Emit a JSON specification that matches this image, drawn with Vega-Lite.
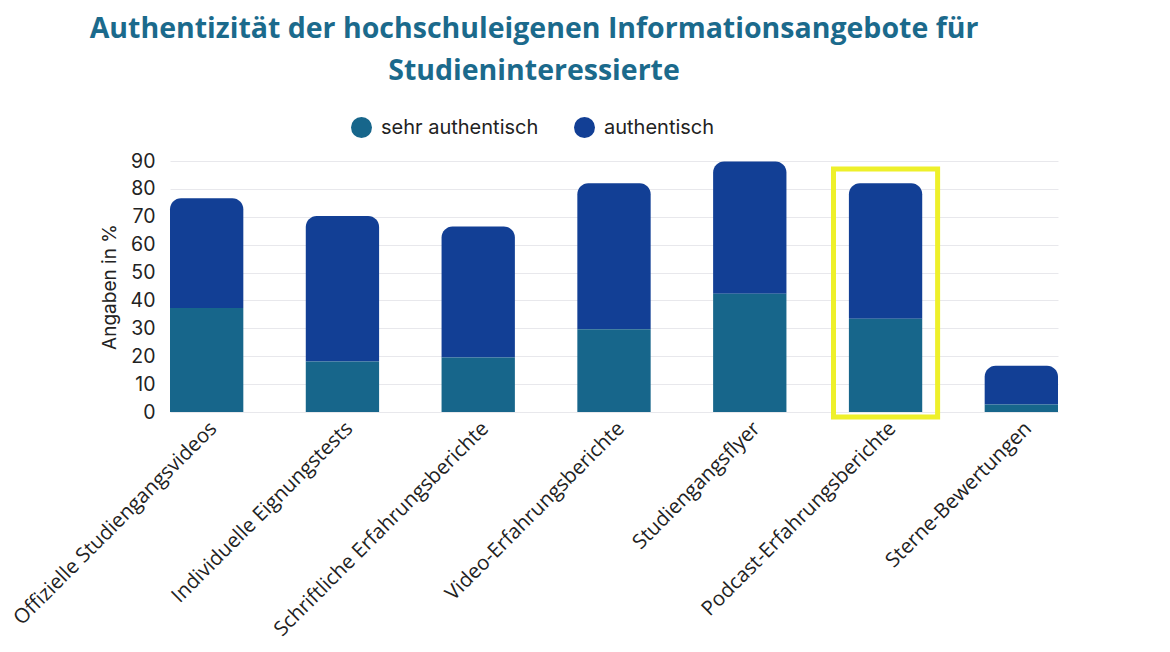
{
  "$schema": "https://vega.github.io/schema/vega-lite/v6.json",
  "background": "white",
  "width": 888,
  "height": 251,
  "padding": {"left": 10, "top": 14, "right": 5, "bottom": 5},
  "title": {
    "text": ["Authentizität der hochschuleigenen Informationsangebote für", "Studieninteressierte"],
    "font": "Open Sans",
    "fontSize": 28.5,
    "fontWeight": "bold",
    "color": "#1B6A8C",
    "anchor": "middle",
    "frame": "bounds",
    "lineHeight": 42,
    "offset": 31
  },
  "data": {
    "values": [
      {"category": "Offizielle Studiengangsvideos", "series": "sehr authentisch", "value": 37.3},
      {"category": "Offizielle Studiengangsvideos", "series": "authentisch", "value": 39.3},
      {"category": "Individuelle Eignungstests", "series": "sehr authentisch", "value": 18.1},
      {"category": "Individuelle Eignungstests", "series": "authentisch", "value": 52.2},
      {"category": "Schriftliche Erfahrungsberichte", "series": "sehr authentisch", "value": 19.5},
      {"category": "Schriftliche Erfahrungsberichte", "series": "authentisch", "value": 47.0},
      {"category": "Video-Erfahrungsberichte", "series": "sehr authentisch", "value": 29.7},
      {"category": "Video-Erfahrungsberichte", "series": "authentisch", "value": 52.3},
      {"category": "Studiengangsflyer", "series": "sehr authentisch", "value": 42.4},
      {"category": "Studiengangsflyer", "series": "authentisch", "value": 47.4},
      {"category": "Podcast-Erfahrungsberichte", "series": "sehr authentisch", "value": 33.4},
      {"category": "Podcast-Erfahrungsberichte", "series": "authentisch", "value": 48.6},
      {"category": "Sterne-Bewertungen", "series": "sehr authentisch", "value": 2.7},
      {"category": "Sterne-Bewertungen", "series": "authentisch", "value": 13.9}
    ]
  },
  "transform": [
    {"stack": "value", "groupby": ["category"], "sort": [{"field": "series", "order": "descending"}], "as": ["v0", "v1"]}
  ],
  "encoding": {
    "x": {
      "field": "category",
      "type": "nominal",
      "sort": null,
      "title": null,
      "scale": {"paddingInner": 0.46, "paddingOuter": 0},
      "axis": {
        "labelAngle": -45,
        "labelFont": "Open Sans",
        "labelFontSize": 20.4,
        "labelColor": "#222222",
        "labelPadding": 6,
        "labelLimit": 0,
        "ticks": false,
        "domain": false,
        "grid": false
      }
    },
    "y": {
      "field": "v1",
      "type": "quantitative",
      "title": "Angaben in %",
      "scale": {"domain": [0, 90], "nice": false},
      "axis": {
        "values": [0, 10, 20, 30, 40, 50, 60, 70, 80, 90],
        "labelFont": "Inter",
        "labelFontSize": 19.5,
        "labelColor": "#222222",
        "labelPadding": 15,
        "titleFont": "Inter",
        "titleFontSize": 19,
        "titleFontWeight": "normal",
        "titleColor": "#222222",
        "titlePadding": 11,
        "ticks": false,
        "domain": false,
        "gridColor": "#E8E8EC",
        "gridWidth": 1
      }
    },
    "y2": {"field": "v0"},
    "color": {
      "field": "series",
      "type": "nominal",
      "scale": {"domain": ["sehr authentisch", "authentisch"], "range": ["#17668B", "#123F95"]},
      "legend": {
        "title": null,
        "orient": "none",
        "legendX": 180,
        "legendY": -45,
        "direction": "horizontal",
        "symbolType": "circle",
        "symbolSize": 441,
        "labelFont": "Inter",
        "labelFontSize": 20,
        "labelColor": "#222222",
        "labelOffset": 8,
        "columnPadding": 34
      }
    }
  },
  "layer": [
    {
      "transform": [{"filter": "datum.series === 'authentisch'"}],
      "mark": {"type": "bar", "cornerRadiusTopLeft": 11, "cornerRadiusTopRight": 11}
    },
    {
      "transform": [{"filter": "datum.series === 'sehr authentisch'"}],
      "mark": {"type": "bar"}
    },
    {
      "transform": [{"filter": "datum.category === 'Podcast-Erfahrungsberichte' && datum.series === 'authentisch'"}],
      "mark": {"type": "bar", "filled": false, "stroke": "#EEF02A", "strokeWidth": 5, "width": {"band": 1.42}},
      "encoding": {
        "y": {"datum": 87.1, "type": "quantitative"},
        "y2": {"datum": -1.8},
        "color": {"value": null}
      }
    }
  ],
  "config": {"view": {"stroke": null}}
}
